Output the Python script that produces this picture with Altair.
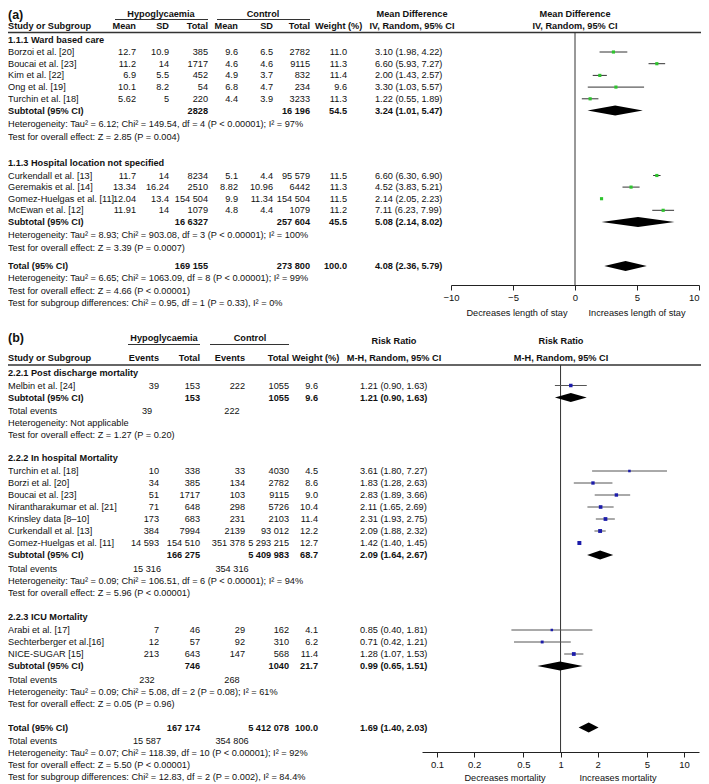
import altair as alt
import pandas as pd

FONT = "Liberation Sans"
OFF = 8            # page margin
W, H = 693, 776
PXROW = 12.0       # pixels per row unit
FS = 9.2

# ---------------- Panel (a): length of stay ----------------
a1_title = "1.1.1 Ward based care"
a1_names = ["Borzoi et al. [20]", "Boucai et al. [23]", "Kim et al. [22]", "Ong et al. [19]", "Turchin et al. [18]"]
a1_mean_h = ["12.7", "11.2", "6.9", "10.1", "5.62"]
a1_sd_h = ["10.9", "14", "5.5", "8.2", "5"]
a1_n_h = ["385", "1717", "452", "54", "220"]
a1_mean_c = ["9.6", "4.6", "4.9", "6.8", "4.4"]
a1_sd_c = ["6.5", "4.6", "3.7", "4.7", "3.9"]
a1_n_c = ["2782", "9115", "832", "234", "3233"]
a1_w = ["11.0", "11.3", "11.4", "9.6", "11.3"]
a1_md = [3.10, 6.60, 2.00, 3.30, 1.22]
a1_lo = [1.98, 5.93, 1.43, 1.03, 0.55]
a1_hi = [4.22, 7.27, 2.57, 5.57, 1.89]
a1_sub = ["2828", "16 196", "54.5"]
a1_sub_md = [3.24, 1.01, 5.47]
a1_het = "Heterogeneity: Tau² = 6.12; Chi² = 149.54, df = 4 (P < 0.00001); I² = 97%"
a1_test = "Test for overall effect: Z = 2.85 (P = 0.004)"

a2_title = "1.1.3 Hospital location not specified"
a2_names = ["Curkendall et al. [13]", "Geremakis et al. [14]", "Gomez-Huelgas et al. [11]", "McEwan et al. [12]"]
a2_mean_h = ["11.7", "13.34", "12.04", "11.91"]
a2_sd_h = ["14", "16.24", "13.4", "14"]
a2_n_h = ["8234", "2510", "154 504", "1079"]
a2_mean_c = ["5.1", "8.82", "9.9", "4.8"]
a2_sd_c = ["4.4", "10.96", "11.34", "4.4"]
a2_n_c = ["95 579", "6442", "154 504", "1079"]
a2_w = ["11.5", "11.3", "11.5", "11.2"]
a2_md = [6.60, 4.52, 2.14, 7.11]
a2_lo = [6.30, 3.83, 2.05, 6.23]
a2_hi = [6.90, 5.21, 2.23, 7.99]
a2_sub = ["16 6327", "257 604", "45.5"]
a2_sub_md = [5.08, 2.14, 8.02]
a2_het = "Heterogeneity: Tau² = 8.93; Chi² = 903.08, df = 3 (P < 0.00001); I² = 100%"
a2_test = "Test for overall effect: Z = 3.39 (P = 0.0007)"

a_tot = ["169 155", "273 800", "100.0"]
a_tot_md = [4.08, 2.36, 5.79]
a_tot_het = "Heterogeneity: Tau² = 6.65; Chi² = 1063.09, df = 8 (P < 0.00001); I² = 99%"
a_tot_test = "Test for overall effect: Z = 4.66 (P < 0.00001)"
a_sg = "Test for subgroup differences: Chi² = 0.95, df = 1 (P = 0.33), I² = 0%"
a_ticks = [-10, -5, 0, 5, 10]
a_dir = ["Decreases length of stay", "Increases length of stay"]

# ---------------- Panel (b): mortality ----------------
b1_title = "2.2.1 Post discharge mortality"
b1_names = ["Melbin et al. [24]"]
b1_ev_h = ["39"]
b1_n_h = ["153"]
b1_ev_c = ["222"]
b1_n_c = ["1055"]
b1_w = ["9.6"]
b1_rr = [1.21]
b1_lo = [0.90]
b1_hi = [1.63]
b1_sub = ["153", "1055", "9.6"]
b1_sub_rr = [1.21, 0.90, 1.63]
b1_events = ["39", "222"]
b1_het = "Heterogeneity: Not applicable"
b1_test = "Test for overall effect: Z = 1.27 (P = 0.20)"

b2_title = "2.2.2 In hospital Mortality"
b2_names = ["Turchin et al. [18]", "Borzi et al. [20]", "Boucai et al. [23]", "Nirantharakumar et al. [21]",
            "Krinsley data [8–10]", "Curkendall et al. [13]", "Gomez-Huelgas et al. [11]"]
b2_ev_h = ["10", "34", "51", "71", "173", "384", "14 593"]
b2_n_h = ["338", "385", "1717", "648", "683", "7994", "154 510"]
b2_ev_c = ["33", "134", "103", "298", "231", "2139", "351 378"]
b2_n_c = ["4030", "2782", "9115", "5726", "2103", "93 012", "5 293 215"]
b2_w = ["4.5", "8.6", "9.0", "10.4", "11.4", "12.2", "12.7"]
b2_rr = [3.61, 1.83, 2.83, 2.11, 2.31, 2.09, 1.42]
b2_lo = [1.80, 1.28, 1.89, 1.65, 1.93, 1.88, 1.40]
b2_hi = [7.27, 2.63, 3.66, 2.69, 2.75, 2.32, 1.45]
b2_sub = ["166 275", "5 409 983", "68.7"]
b2_sub_rr = [2.09, 1.64, 2.67]
b2_events = ["15 316", "354 316"]
b2_het = "Heterogeneity: Tau² = 0.09; Chi² = 106.51, df = 6 (P < 0.00001); I² = 94%"
b2_test = "Test for overall effect: Z = 5.96 (P < 0.00001)"

b3_title = "2.2.3 ICU Mortality"
b3_names = ["Arabi et al. [17]", "Sechterberger et al.[16]", "NICE-SUGAR [15]"]
b3_ev_h = ["7", "12", "213"]
b3_n_h = ["46", "57", "643"]
b3_ev_c = ["29", "92", "147"]
b3_n_c = ["162", "310", "568"]
b3_w = ["4.1", "6.2", "11.4"]
b3_rr = [0.85, 0.71, 1.28]
b3_lo = [0.40, 0.42, 1.07]
b3_hi = [1.81, 1.21, 1.53]
b3_sub = ["746", "1040", "21.7"]
b3_sub_rr = [0.99, 0.65, 1.51]
b3_events = ["232", "268"]
b3_het = "Heterogeneity: Tau² = 0.09; Chi² = 5.08, df = 2 (P = 0.08); I² = 61%"
b3_test = "Test for overall effect: Z = 0.05 (P = 0.96)"

b_tot = ["167 174", "5 412 078", "100.0"]
b_tot_rr = [1.69, 1.40, 2.03]
b_tot_events = ["15 587", "354 806"]
b_tot_het = "Heterogeneity: Tau² = 0.07; Chi² = 118.39, df = 10 (P < 0.00001); I² = 92%"
b_tot_test = "Test for overall effect: Z = 5.50 (P < 0.00001)"
b_sg = "Test for subgroup differences: Chi² = 12.83, df = 2 (P = 0.002), I² = 84.4%"
b_ticks = [0.1, 0.2, 0.5, 1, 2, 5, 10]
b_dir = ["Decreases mortality", "Increases mortality"]

# ---------------- layout helpers ----------------
txt, rules = [], []
fa_pts, fa_ci, fa_dia = [], [], []
fb_pts, fb_ci, fb_dia = [], [], []


def row(y):
    return (y - OFF) / PXROW


def put(t, x, y, align="left", bold=False, big=False):
    txt.append(dict(t=t, x=x - OFF, row=row(y), al=align, bold=bold, big=big))


def hline(x1, x2, y, w=1.0):
    rules.append(dict(x1=x1 - OFF, x2=x2 - OFF, row=row(y), w=w))


def eff(m, l, h):
    return f"{m:.2f} ({l:.2f}, {h:.2f})"


def diamond(lst, est, lo, hi, y, gid, half=5.0):
    lst.append(dict(id=gid, x=lo, top=row(y), bot=row(y)))
    lst.append(dict(id=gid, x=est, top=row(y - half), bot=row(y + half)))
    lst.append(dict(id=gid, x=hi, top=row(y), bot=row(y)))


LX = 8
# ---- panel (a) columns
A_COLS = [136, 169, 208, 238, 273, 310, 347]
A_EFF = 375
A_HDR = 412
A_NULL = 575

put("(a)", LX, 15, bold=True, big=True)
put("Hypoglycaemia", 161, 14, "center", True)
put("Control", 263, 14, "center", True)
put("Mean Difference", A_HDR, 14, "center", True)
put("Mean Difference", A_NULL, 14, "center", True)
hline(115, 208, 19.5)
hline(217, 310, 19.5)
put("Study or Subgroup", LX, 26, bold=True)
for xc, h in zip(A_COLS[:6], ["Mean", "SD", "Total", "Mean", "SD", "Total"]):
    put(h, xc, 26, "right", True)
put("Weight (%)", 315, 26, bold=True)
put("IV, Random, 95% CI", A_HDR, 26, "center", True)
put("IV, Random, 95% CI", A_NULL, 26, "center", True)
hline(0, 709, 32.5, 1.5)


def a_group(y, title, names, cols, md, lo, hi, sub, sub_md, het, test, gid, step):
    put(title, LX, y, bold=True)
    y += 12.5
    for i, nm in enumerate(names):
        put(nm, LX, y)
        for xc, col in zip(A_COLS, cols):
            put(col[i], xc, y, "right")
        put(eff(md[i], lo[i], hi[i]), A_EFF, y)
        fa_pts.append(dict(x=md[i], row=row(y)))
        fa_ci.append(dict(lo=lo[i], hi=hi[i], row=row(y)))
        y += step
    put("Subtotal (95% CI)", LX, y, bold=True)
    put(sub[0], A_COLS[2], y, "right", True)
    put(sub[1], A_COLS[5], y, "right", True)
    put(sub[2], A_COLS[6], y, "right", True)
    put(eff(*sub_md), A_EFF, y, bold=True)
    diamond(fa_dia, sub_md[0], sub_md[1], sub_md[2], y, gid)
    y += 13.5
    put(het, LX, y)
    y += 12.5
    put(test, LX, y)
    return y


y = a_group(39.5, a1_title, a1_names, [a1_mean_h, a1_sd_h, a1_n_h, a1_mean_c, a1_sd_c, a1_n_c, a1_w],
            a1_md, a1_lo, a1_hi, a1_sub, a1_sub_md, a1_het, a1_test, "a1", 11.7)
y = a_group(y + 26.5, a2_title, a2_names, [a2_mean_h, a2_sd_h, a2_n_h, a2_mean_c, a2_sd_c, a2_n_c, a2_w],
            a2_md, a2_lo, a2_hi, a2_sub, a2_sub_md, a2_het, a2_test, "a2", 11.6)
y += 18
put("Total (95% CI)", LX, y, bold=True)
put(a_tot[0], A_COLS[2], y, "right", True)
put(a_tot[1], A_COLS[5], y, "right", True)
put(a_tot[2], A_COLS[6], y, "right", True)
put(eff(*a_tot_md), A_EFF, y, bold=True)
diamond(fa_dia, a_tot_md[0], a_tot_md[1], a_tot_md[2], y, "atot")
for t in [a_tot_het, a_tot_test, a_sg]:
    y += 12.3
    put(t, LX, y)
A_AXIS_Y = 285
put(a_dir[0], 517, 313, "center")
put(a_dir[1], 637, 313, "center")

# ---- panel (b) columns
B_COLS = [159, 200, 245, 289, 318]
B_EV = [147, 232]
B_EFF = 360
B_HDR = 394
B_NULL = 561

put("(b)", LX, 338, bold=True, big=True)
put("Hypoglycaemia", 164, 338, "center", True)
put("Control", 250, 338, "center", True)
put("Risk Ratio", B_HDR, 341, "center", True)
put("Risk Ratio", B_NULL, 341, "center", True)
hline(128, 200, 344.5)
hline(210, 289, 344.5)
put("Study or Subgroup", LX, 358, bold=True)
for xc, h in zip(B_COLS[:4], ["Events", "Total", "Events", "Total"]):
    put(h, xc, 358, "right", True)
put("Weight (%)", 292, 358, bold=True)
put("M-H, Random, 95% CI", B_HDR, 358, "center", True)
put("M-H, Random, 95% CI", B_NULL, 358, "center", True)
hline(0, 709, 365, 1.5)


def b_group(y, title, names, cols, rr, lo, hi, sub, sub_rr, events, het, test, gid):
    put(title, LX, y, bold=True)
    y += 13
    for i, nm in enumerate(names):
        put(nm, LX, y)
        for xc, col in zip(B_COLS, cols):
            put(col[i], xc, y, "right")
        put(eff(rr[i], lo[i], hi[i]), B_EFF, y)
        fb_pts.append(dict(x=rr[i], row=row(y), w=float(cols[4][i])))
        fb_ci.append(dict(lo=lo[i], hi=hi[i], row=row(y)))
        y += 12
    put("Subtotal (95% CI)", LX, y, bold=True)
    put(sub[0], B_COLS[1], y, "right", True)
    put(sub[1], B_COLS[3], y, "right", True)
    put(sub[2], B_COLS[4], y, "right", True)
    put(eff(*sub_rr), B_EFF, y, bold=True)
    diamond(fb_dia, sub_rr[0], sub_rr[1], sub_rr[2], y, gid, 4.5)
    y += 13.5
    put("Total events", LX, y)
    put(events[0], B_EV[0], y, "center")
    put(events[1], B_EV[1], y, "center")
    y += 12
    put(het, LX, y)
    y += 12
    put(test, LX, y)
    return y


y = b_group(372.5, b1_title, b1_names, [b1_ev_h, b1_n_h, b1_ev_c, b1_n_c, b1_w], b1_rr, b1_lo, b1_hi,
            b1_sub, b1_sub_rr, b1_events, b1_het, b1_test, "b1")
y = b_group(y + 23, b2_title, b2_names, [b2_ev_h, b2_n_h, b2_ev_c, b2_n_c, b2_w], b2_rr, b2_lo, b2_hi,
            b2_sub, b2_sub_rr, b2_events, b2_het, b2_test, "b2")
y = b_group(y + 24.5, b3_title, b3_names, [b3_ev_h, b3_n_h, b3_ev_c, b3_n_c, b3_w], b3_rr, b3_lo, b3_hi,
            b3_sub, b3_sub_rr, b3_events, b3_het, b3_test, "b3")
y += 24
put("Total (95% CI)", LX, y, bold=True)
put(b_tot[0], B_COLS[1], y, "right", True)
put(b_tot[1], B_COLS[3], y, "right", True)
put(b_tot[2], B_COLS[4], y, "right", True)
put(eff(*b_tot_rr), B_EFF, y, bold=True)
diamond(fb_dia, b_tot_rr[0], b_tot_rr[1], b_tot_rr[2], y, "btot")
y += 13
put("Total events", LX, y)
put(b_tot_events[0], B_EV[0], y, "center")
put(b_tot_events[1], B_EV[1], y, "center")
for t in [b_tot_het, b_tot_test, b_sg]:
    y += 12
    put(t, LX, y)
B_AXIS_Y = 752
put(b_dir[0], 505, 778, "center")
put(b_dir[1], 618, 778, "center")

# ---------------- charts ----------------
YS = alt.Scale(domain=[0, H / PXROW], reverse=True, nice=False, zero=False)
df_txt = pd.DataFrame(txt)

layers = []
for big in [False, True]:
    for align in ["left", "right", "center"]:
        for bold in [False, True]:
            d = df_txt[(df_txt["al"] == align) & (df_txt["bold"] == bold) & (df_txt["big"] == big)]
            if d.empty:
                continue
            d = d[["t", "x", "row"]].reset_index(drop=True)
            layers.append(
                alt.Chart(d).mark_text(
                    align=align, baseline="middle", font=FONT,
                    fontSize=12.5 if big else FS,
                    fontWeight="bold" if bold else "normal", color="#111"
                ).encode(
                    x=alt.X("x:Q", scale=None, axis=None),
                    y=alt.Y("row:Q", scale=YS, axis=None),
                    text="t:N",
                )
            )

layers.append(
    alt.Chart(pd.DataFrame(rules)).mark_rule(color="#333").encode(
        x=alt.X("x1:Q", scale=None, axis=None), x2="x2:Q",
        y=alt.Y("row:Q", scale=YS, axis=None),
        strokeWidth=alt.StrokeWidth("w:Q", scale=None),
    )
)


def axis(values, ypix, fmt, align):
    return alt.Axis(values=values, orient="bottom", offset=(ypix - OFF) - H, title=None, grid=False,
                    tickSize=5, labelPadding=2, domainColor="#222", tickColor="#222", domainWidth=1,
                    labelFont=FONT, labelFontSize=9.5, labelColor="#111", labelOverlap=False,
                    labelFlush=False, format=fmt, labelAlign=align)


XA = alt.Scale(domain=[-10, 10], range=[451 - OFF, 699 - OFF], nice=False, zero=False)
# the last label sits at the page edge: keep it inside the picture
AXA = axis(a_ticks, A_AXIS_Y, "d",
           {"condition": {"test": f"datum.value == {a_ticks[-1]}", "value": "right"}, "value": "center"})
nullA = alt.Chart(pd.DataFrame({"x": [0], "top": [row(32)], "bot": [row(A_AXIS_Y)]})).mark_rule(
    color="#333", strokeWidth=1).encode(
    x=alt.X("x:Q", scale=XA, axis=AXA), y=alt.Y("top:Q", scale=YS, axis=None), y2="bot:Q")
ciA = alt.Chart(pd.DataFrame(fa_ci)).mark_rule(color="#333", strokeWidth=1).encode(
    x=alt.X("lo:Q", scale=XA, axis=AXA), x2="hi:Q", y=alt.Y("row:Q", scale=YS, axis=None))
sqA = alt.Chart(pd.DataFrame(fa_pts)).mark_square(size=10, color="#2ec42e", opacity=1).encode(
    x=alt.X("x:Q", scale=XA, axis=AXA), y=alt.Y("row:Q", scale=YS, axis=None))
diaA = alt.Chart(pd.DataFrame(fa_dia)).mark_area(orient="vertical", color="#000", opacity=1).encode(
    x=alt.X("x:Q", scale=XA, axis=AXA), y=alt.Y("top:Q", scale=YS, axis=None), y2="bot:Q", detail="id:N")
forestA = alt.layer(nullA, ciA, sqA, diaA)

XB = alt.Scale(type="log", domain=[0.0756, 13.2], range=[422 - OFF, 699 - OFF], nice=False)
AXB = axis(b_ticks, B_AXIS_Y, "~g", "center")
nullB = alt.Chart(pd.DataFrame({"x": [1], "top": [row(365)], "bot": [row(B_AXIS_Y)]})).mark_rule(
    color="#333", strokeWidth=1).encode(
    x=alt.X("x:Q", scale=XB, axis=AXB), y=alt.Y("top:Q", scale=YS, axis=None), y2="bot:Q")
ciB = alt.Chart(pd.DataFrame(fb_ci)).mark_rule(color="#555", strokeWidth=1).encode(
    x=alt.X("lo:Q", scale=XB, axis=AXB), x2="hi:Q", y=alt.Y("row:Q", scale=YS, axis=None))
sqB = alt.Chart(pd.DataFrame(fb_pts)).mark_square(color="#1c1caa", opacity=1).encode(
    x=alt.X("x:Q", scale=XB, axis=AXB), y=alt.Y("row:Q", scale=YS, axis=None),
    size=alt.Size("w:Q", scale=alt.Scale(domain=[4, 13], range=[6, 16]), legend=None))
diaB = alt.Chart(pd.DataFrame(fb_dia)).mark_area(orient="vertical", color="#000", opacity=1).encode(
    x=alt.X("x:Q", scale=XB, axis=AXB), y=alt.Y("top:Q", scale=YS, axis=None), y2="bot:Q", detail="id:N")
forestB = alt.layer(nullB, ciB, sqB, diaB)

chart = alt.layer(*layers, forestA, forestB).resolve_scale(x="independent").properties(
    width=W, height=H, padding=0, autosize=alt.AutoSizeParams(type="none"), background="white"
).configure_view(stroke=None, strokeWidth=0)

chart.save("out.html", embed_options={"renderer": "svg", "actions": False})
